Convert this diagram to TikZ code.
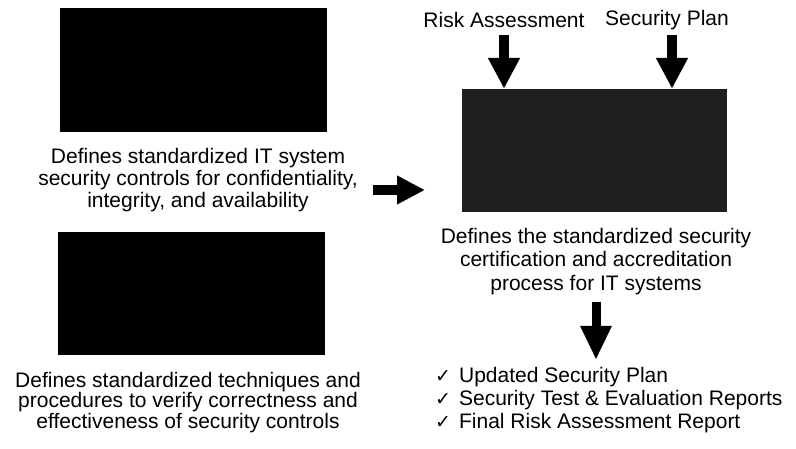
\documentclass[tikz,border=0pt]{standalone}
\usepackage{fontspec}
\setmainfont{Liberation Sans}
\newfontfamily\checkfont{DejaVu Sans}
\usetikzlibrary{arrows.meta}
\tikzset{
  photo/.style={draw=none, fill=black, inner sep=0pt},
  photogray/.style={draw=none, fill=black!88, inner sep=0pt},
  caption/.style={align=center, inner sep=0pt, font=\fontsize{21}{22}\selectfont},
  label/.style={inner sep=0pt, font=\fontsize{21}{22}\selectfont},
  blockarrow/.style={line width=10pt, -{Triangle[width=30pt,length=31pt]}},
  blockarrowh/.style={line width=10pt, -{Triangle[width=27pt,length=28pt]}},
}
\newcommand{\chk}{{\checkfont\fontsize{19}{23}\selectfont ✓}\hspace{8pt}}
\begin{document}
\begin{tikzpicture}[x=1pt,y=-1pt]
\useasboundingbox (0,0) rectangle (796,449);
% left column
\node[photo, minimum width=267pt, minimum height=124pt] (boxA) at (193.5,70) {};
\node[caption] (textA) at (198,180) {Defines standardized IT system\\security controls for confidentiality,\\integrity, and availability};
\node[photo, minimum width=267pt, minimum height=123pt] (boxB) at (191.5,293.5) {};
\node[caption, font=\fontsize{21}{20.5}\selectfont] (textB) at (188,402.5) {Defines standardized techniques and\\procedures to verify correctness and\\effectiveness of security controls};
% right column
\node[label] (risk) at (504,20) {Risk Assessment};
\node[label] (plan) at (667,20) {Security Plan};
\node[photogray, minimum width=265pt, minimum height=123pt] (boxC) at (594.5,150.5) {};
\node[caption, font=\fontsize{21}{23.5}\selectfont] (textC) at (596,261.5) {Defines the standardized security\\certification and accreditation\\process for IT systems};
\node[label, anchor=west, align=left, font=\fontsize{21}{23}\selectfont] (list) at (435,400) {%
\chk Updated Security Plan\\
\chk Security Test \& Evaluation Reports\\
\chk Final Risk Assessment Report};
% arrows
\coordinate (r1) at (504,35);
\coordinate (p1) at (672,35);
\draw[blockarrow] (r1) -- (r1 |- boxC.north);
\draw[blockarrow] (p1) -- (p1 |- boxC.north);
\coordinate (m1) at (373,190);
\coordinate (m2) at (425,190);
\draw[blockarrowh] (m1) -- (m2);
\coordinate (d1) at (596,302);
\coordinate (d2) at (596,360);
\draw[line width=9pt, -{Triangle[width=29pt,length=34pt]}] (d1) -- (d2);
\end{tikzpicture}
\end{document}
